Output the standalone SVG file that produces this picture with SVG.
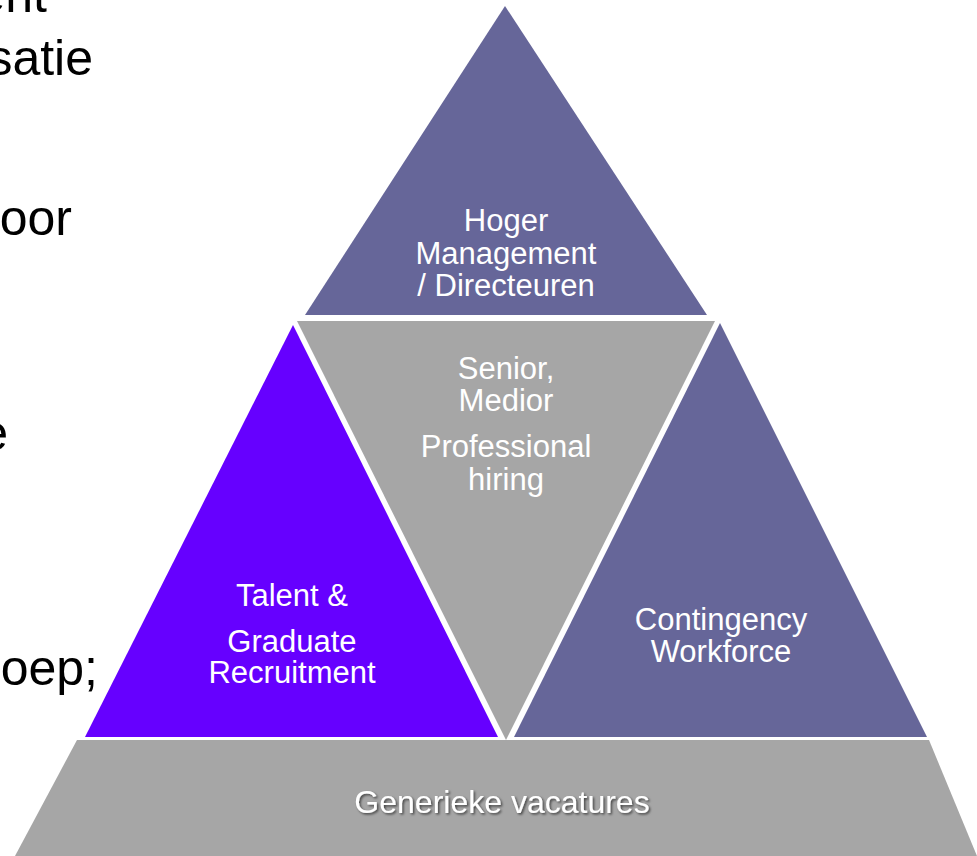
<svg xmlns="http://www.w3.org/2000/svg" width="977" height="856" viewBox="0 0 977 856">
  <defs>
    <filter id="shadow" x="-10%" y="-30%" width="120%" height="160%">
      <feDropShadow dx="1.5" dy="1.5" stdDeviation="0.8" flood-color="#000" flood-opacity="0.6"/>
    </filter>
  </defs>
  <style>
    .lbl { font-family: "Liberation Sans", Arial, sans-serif; font-size: 31px; fill: #ffffff; text-anchor: middle; }
    .side { font-family: "Liberation Sans", Arial, sans-serif; font-size: 50px; fill: #000000; text-anchor: end; }
    .slate { fill: #666699; }
    .violet { fill: #6600FF; }
    .grey { fill: #A6A6A6; }
  </style>
  <rect width="977" height="856" fill="#ffffff"/>
  <g id="side-text">
    <text class="side" x="47" y="12">ent</text>
    <text class="side" x="93" y="75">satie</text>
    <text class="side" x="72" y="235">oor</text>
    <text class="side" x="8" y="450">e</text>
    <text class="side" x="98" y="685">oep;</text>
  </g>
  <g id="top">
    <polygon class="slate" points="505,6 305,315 707,315"/>
    <text class="lbl" x="506" y="231">Hoger</text>
    <text class="lbl" x="506" y="263.5">Management</text>
    <text class="lbl" x="506" y="295.5">/ Directeuren</text>
  </g>
  <g id="middle">
    <polygon class="grey" points="297,321 715,321 506,740"/>
    <text class="lbl" x="506" y="379">Senior,</text>
    <text class="lbl" x="506" y="411">Medior</text>
    <text class="lbl" x="506" y="457">Professional</text>
    <text class="lbl" x="506" y="490">hiring</text>
  </g>
  <g id="left">
    <polygon class="violet" points="293,325 85,737 498,737"/>
    <text class="lbl" x="292" y="606">Talent &amp;</text>
    <text class="lbl" x="292" y="652">Graduate</text>
    <text class="lbl" x="292" y="683">Recruitment</text>
  </g>
  <g id="right">
    <polygon class="slate" points="720,323 514,737 927,737"/>
    <text class="lbl" x="721" y="630">Contingency</text>
    <text class="lbl" x="721" y="662">Workforce</text>
  </g>
  <g id="bottom">
    <polygon class="grey" points="77,740 929,740 977,856 977,860 15,860 15,856"/>
    <text class="lbl" x="502" y="813" style="font-size:32px" filter="url(#shadow)">Generieke vacatures</text>
  </g>
</svg>
